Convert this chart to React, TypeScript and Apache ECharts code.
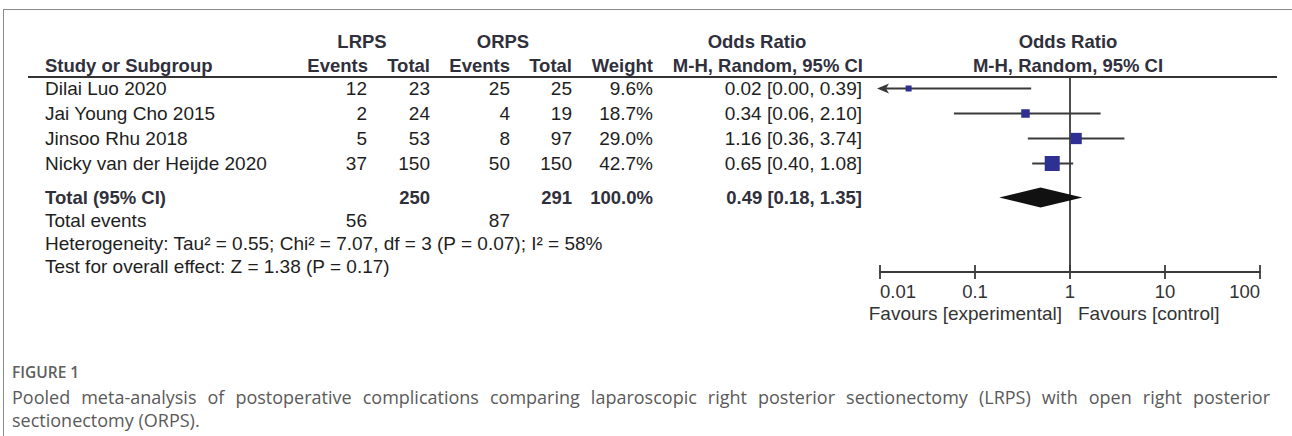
import React, { useEffect, useRef } from "react";
import * as echarts from "echarts";

// ---------- data ----------
const studies = ["Dilai Luo 2020", "Jai Young Cho 2015", "Jinsoo Rhu 2018", "Nicky van der Heijde 2020"];
const lrpsEvents = [12, 2, 5, 37];
const lrpsTotal = [23, 24, 53, 150];
const orpsEvents = [25, 4, 8, 50];
const orpsTotal = [25, 19, 97, 150];
const weights = [9.6, 18.7, 29.0, 42.7];
const oddsRatio = [0.02, 0.34, 1.16, 0.65];
const ciLow = [0.0, 0.06, 0.36, 0.4];
const ciHigh = [0.39, 2.1, 3.74, 1.08];
const pooledEstimate = [0.49, 0.18, 1.35]; // OR, low, high
const pooledWeight = 100.0;
const groupTotals = [250, 291];
const totalEvents = [56, 87];
const xTickValues = [0.01, 0.1, 1, 10, 100];
const xTickLabels = ["0.01", "0.1", "1", "10", "100"];
const heterogeneityText = "Heterogeneity: Tau\u00b2 = 0.55; Chi\u00b2 = 7.07, df = 3 (P = 0.07); I\u00b2 = 58%";
const overallEffectText = "Test for overall effect: Z = 1.38 (P = 0.17)";
const captionTitle = "FIGURE 1";
const captionLine1 =
  "Pooled meta-analysis of postoperative complications comparing laparoscopic right posterior sectionectomy (LRPS) with open right posterior";
const captionLine2 = "sectionectomy (ORPS).";

// ---------- layout ----------
const ROW0 = 88.5;
const ROWH = 25;
const POOLED_ROW = 4.36;
const rowY = (r: number) => ROW0 + ROWH * r;

const BODY_FONT = '19px "Liberation Sans", Arial, sans-serif';
const BOLD_FONT = 'bold 18.5px "Liberation Sans", Arial, sans-serif';
const CAPTION_FONT = '18px "Open Sans", sans-serif';
const TEXT_COLOR = "#1e1e1e";
const HEAD_COLOR = "#30303c";
const LINE_COLOR = "#3a3a3a";

function txt(text: string, x: number, y: number, align: string, font = BODY_FONT, fill = TEXT_COLOR) {
  return {
    type: "text",
    x,
    y,
    silent: true,
    style: { text, font, fill, align, verticalAlign: "middle" },
  };
}

function fmt2(v: number) {
  return v.toFixed(2);
}

function justifiedLine(line: string, x0: number, x1: number, y: number) {
  const canvas = document.createElement("canvas");
  const ctx = canvas.getContext("2d") as CanvasRenderingContext2D;
  ctx.font = CAPTION_FONT;
  const words = line.split(" ");
  const widths = words.map((w) => ctx.measureText(w).width);
  const sum = widths.reduce((a, b) => a + b, 0);
  const gap = (x1 - x0 - sum) / (words.length - 1);
  let x = x0;
  return words.map((w, i) => {
    const el = txt(w, x, y, "left", CAPTION_FONT, "#5a5a5a");
    x += widths[i] + gap;
    return el;
  });
}

export default function App() {
  const ref = useRef<HTMLDivElement>(null);

  useEffect(() => {
    if (!ref.current) return;
    const chart = echarts.init(ref.current, undefined, { renderer: "svg" });

    const graphics: any[] = [];
    // frame
    graphics.push({ type: "line", silent: true, shape: { x1: 3, y1: 9.5, x2: 1292, y2: 9.5 }, style: { stroke: "#8a8a8a", lineWidth: 1 } });
    graphics.push({ type: "line", silent: true, shape: { x1: 3.5, y1: 9, x2: 3.5, y2: 436 }, style: { stroke: "#8a8a8a", lineWidth: 1 } });

    // headers
    const h1 = 41;
    const h2 = 65;
    graphics.push(txt("LRPS", 362, h1, "center", BOLD_FONT, HEAD_COLOR));
    graphics.push(txt("ORPS", 503, h1, "center", BOLD_FONT, HEAD_COLOR));
    graphics.push(txt("Odds Ratio", 757, h1, "center", BOLD_FONT, HEAD_COLOR));
    graphics.push(txt("Odds Ratio", 1068, h1, "center", BOLD_FONT, HEAD_COLOR));
    graphics.push(txt("Study or Subgroup", 45, h2, "left", BOLD_FONT, HEAD_COLOR));
    graphics.push(txt("Events", 368, h2, "right", BOLD_FONT, HEAD_COLOR));
    graphics.push(txt("Total", 430, h2, "right", BOLD_FONT, HEAD_COLOR));
    graphics.push(txt("Events", 510, h2, "right", BOLD_FONT, HEAD_COLOR));
    graphics.push(txt("Total", 572, h2, "right", BOLD_FONT, HEAD_COLOR));
    graphics.push(txt("Weight", 653, h2, "right", BOLD_FONT, HEAD_COLOR));
    graphics.push(txt("M-H, Random, 95% CI", 863, h2, "right", BOLD_FONT, HEAD_COLOR));
    graphics.push(txt("M-H, Random, 95% CI", 1068, h2, "center", BOLD_FONT, HEAD_COLOR));
    graphics.push({ type: "line", silent: true, shape: { x1: 28, y1: 77, x2: 1277, y2: 77 }, style: { stroke: "#333333", lineWidth: 1.8 } });

    // study rows
    studies.forEach((s, i) => {
      const y = rowY(i);
      graphics.push(txt(s, 45, y, "left"));
      graphics.push(txt(String(lrpsEvents[i]), 367, y, "right"));
      graphics.push(txt(String(lrpsTotal[i]), 430, y, "right"));
      graphics.push(txt(String(orpsEvents[i]), 510, y, "right"));
      graphics.push(txt(String(orpsTotal[i]), 572, y, "right"));
      graphics.push(txt(weights[i].toFixed(1) + "%", 653, y, "right"));
      graphics.push(txt(`${fmt2(oddsRatio[i])} [${fmt2(ciLow[i])}, ${fmt2(ciHigh[i])}]`, 862, y, "right"));
    });

    // pooled row
    const py = rowY(POOLED_ROW);
    graphics.push(txt("Total (95% CI)", 45, py, "left", BOLD_FONT, HEAD_COLOR));
    graphics.push(txt(String(groupTotals[0]), 430, py, "right", BOLD_FONT, HEAD_COLOR));
    graphics.push(txt(String(groupTotals[1]), 572, py, "right", BOLD_FONT, HEAD_COLOR));
    graphics.push(txt(pooledWeight.toFixed(1) + "%", 653, py, "right", BOLD_FONT, HEAD_COLOR));
    graphics.push(
      txt(`${fmt2(pooledEstimate[0])} [${fmt2(pooledEstimate[1])}, ${fmt2(pooledEstimate[2])}]`, 862, py, "right", BOLD_FONT, HEAD_COLOR)
    );
    const ey = rowY(5.28);
    graphics.push(txt("Total events", 45, ey, "left"));
    graphics.push(txt(String(totalEvents[0]), 367, ey, "right"));
    graphics.push(txt(String(totalEvents[1]), 510, ey, "right"));
    graphics.push(txt(heterogeneityText, 45, rowY(6.2), "left"));
    graphics.push(txt(overallEffectText, 45, rowY(7.12), "left"));

    // favours
    graphics.push(txt("Favours [experimental]", 1062, 313, "right", BODY_FONT, "#333333"));
    graphics.push(txt("Favours [control]", 1078, 313, "left", BODY_FONT, "#333333"));

    // caption
    graphics.push(txt(captionTitle, 12, 372, "left", '600 15.5px "Open Sans", sans-serif', "#606060"));
    justifiedLine(captionLine1, 12, 1270, 397).forEach((g) => graphics.push(g));
    graphics.push(txt(captionLine2, 12, 420, "left", CAPTION_FONT, "#5a5a5a"));

    const labelFor = (v: number) => {
      const idx = xTickValues.findIndex((t) => Math.abs(Math.log10(t) - Math.log10(v)) < 1e-6);
      return idx >= 0 ? xTickLabels[idx] : "";
    };

    const studyData = studies.map((_, i) => [i, oddsRatio[i], ciLow[i], ciHigh[i], weights[i]]);
    const pooledData = [[POOLED_ROW, pooledEstimate[0], pooledEstimate[1], pooledEstimate[2]]];

    const option: any = {
      animation: false,
      backgroundColor: "#ffffff",
      grid: { left: 880, right: 32, top: 77, height: 195, containLabel: false },
      xAxis: [
        {
          type: "log",
          logBase: 10,
          position: "bottom",
          min: xTickValues[0],
          max: xTickValues[xTickValues.length - 1],
          axisLine: { show: true, onZero: false, lineStyle: { color: LINE_COLOR, width: 2 } },
          axisTick: { show: true, inside: false, length: 7, lineStyle: { color: LINE_COLOR, width: 1.8 } },
          axisLabel: {
            show: true,
            margin: 10,
            color: "#333333",
            fontSize: 18.5,
            fontFamily: '"Liberation Sans", Arial, sans-serif',
            formatter: (v: number) => labelFor(v),
            alignMinLabel: "left",
            alignMaxLabel: "right",
          },
          splitLine: { show: false },
        },
        {
          type: "log",
          logBase: 10,
          position: "bottom",
          min: xTickValues[0],
          max: xTickValues[xTickValues.length - 1],
          axisLine: { show: false, onZero: false },
          axisTick: { show: true, inside: true, length: 7, lineStyle: { color: LINE_COLOR, width: 1.8 } },
          axisLabel: { show: false },
          splitLine: { show: false },
        },
      ],
      yAxis: {
        type: "value",
        inverse: true,
        min: -0.46,
        max: 7.34,
        show: false,
      },
      graphic: graphics,
      series: [
        {
          type: "custom",
          name: "ref",
          xAxisIndex: 0,
          data: [[1, 0]],
          encode: { x: 0, y: 1 },
          silent: true,
          renderItem: (params: any, api: any) => {
            const cs = params.coordSys;
            const p = api.coord([api.value(0), 0]);
            return {
              type: "line",
              shape: { x1: p[0], y1: cs.y, x2: p[0], y2: cs.y + cs.height },
              style: { stroke: LINE_COLOR, lineWidth: 1.8 },
            };
          },
        },
        {
          type: "custom",
          name: "studies",
          xAxisIndex: 0,
          data: studyData,
          encode: { x: 1, y: 0 },
          silent: true,
          renderItem: (params: any, api: any) => {
            const row = api.value(0);
            const or = api.value(1);
            const lo = api.value(2);
            const hi = api.value(3);
            const w = api.value(4);
            const xMin = xTickValues[0];
            const clipped = lo < xMin;
            const pLo = api.coord([clipped ? xMin : lo, row]);
            const pHi = api.coord([hi, row]);
            const pC = api.coord([or, row]);
            const y = pC[1];
            const s = 3.4 + 0.272 * w;
            const children: any[] = [
              {
                type: "line",
                shape: { x1: pLo[0], y1: y, x2: pHi[0], y2: y },
                style: { stroke: LINE_COLOR, lineWidth: 1.8 },
              },
            ];
            if (clipped) {
              const ax = pLo[0] - 3;
              children.push({
                type: "polygon",
                shape: { points: [[ax, y], [ax + 12, y - 5], [ax + 9, y], [ax + 12, y + 5]] },
                style: { fill: LINE_COLOR },
              });
            }
            children.push({
              type: "rect",
              shape: { x: pC[0] - s / 2, y: y - s / 2, width: s, height: s },
              style: { fill: "#2e3192" },
            });
            return { type: "group", children };
          },
        },
        {
          type: "custom",
          name: "pooled",
          xAxisIndex: 0,
          data: pooledData,
          encode: { x: 1, y: 0 },
          silent: true,
          renderItem: (params: any, api: any) => {
            const row = api.value(0);
            const pC = api.coord([api.value(1), row]);
            const pLo = api.coord([api.value(2), row]);
            const pHi = api.coord([api.value(3), row]);
            const y = pC[1];
            const hh = 10;
            return {
              type: "polygon",
              shape: { points: [[pLo[0], y], [pC[0], y - hh], [pHi[0], y], [pC[0], y + hh]] },
              style: { fill: "#111111" },
            };
          },
        },
      ],
    };

    chart.setOption(option);
    return () => chart.dispose();
  }, []);

  return (
    <div
      ref={ref}
      style={{ position: "fixed", left: 0, top: 0, width: 1292, height: 436, background: "#fff" }}
    />
  );
}
